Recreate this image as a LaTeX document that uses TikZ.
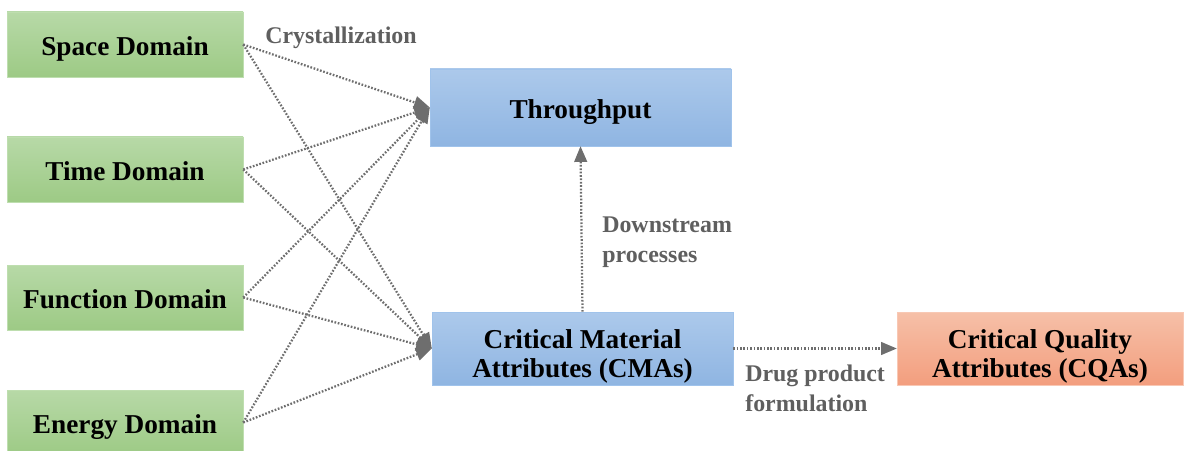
\documentclass[tikz,border=0pt]{standalone}
\usepackage{fontspec}
\setmainfont{Liberation Serif}
\usepackage{tikz}
\usetikzlibrary{arrows}
\usetikzlibrary{positioning}
\definecolor{leaftop}{RGB}{183, 217, 167}
\definecolor{leafbot}{RGB}{157, 202, 133}
\definecolor{leafline}{RGB}{190, 222, 175}
\definecolor{skytop}{RGB}{172, 201, 235}
\definecolor{skybot}{RGB}{143, 181, 226}
\definecolor{skyline}{RGB}{160, 195, 235}
\definecolor{peachtop}{RGB}{246, 192, 168}
\definecolor{peachbot}{RGB}{243, 158, 126}
\definecolor{peachline}{RGB}{248, 200, 180}
\definecolor{linkgray}{RGB}{110, 110, 110}
\definecolor{labelgray}{RGB}{95, 95, 95}
\tikzset{
    domainbox/.style  = {draw=leafline, top color=leaftop, bottom color=leafbot,
                         minimum width=5.9cm, minimum height=1.625cm, inner sep=0pt,
                         text height=20pt, text depth=5pt,
                         font=\fontsize{19.4}{20.2}\selectfont\bfseries},
    targetbox/.style  = {draw=skyline, top color=skytop, bottom color=skybot,
                         minimum width=7.525cm, inner sep=0pt, align=center,
                         font=\fontsize{19.4}{20.2}\selectfont\bfseries},
    qualitybox/.style = {draw=peachline, top color=peachtop, bottom color=peachbot,
                         minimum width=7.15cm, minimum height=1.825cm, inner sep=0pt, align=center,
                         text height=44.6pt, text depth=4pt,
                         font=\fontsize{19.4}{20.2}\selectfont\bfseries},
    linklabel/.style  = {text=labelgray, align=left, inner sep=0pt,
                         font=\fontsize{17}{21.3}\selectfont\bfseries},
    dottedlink/.style = {draw=linkgray, line width=1.6pt, dash pattern=on 1.2pt off 1.2pt,
                         -triangle 45}
}

\begin{document}
\begin{tikzpicture}
            \useasboundingbox (0,0) rectangle (29.65,11.25);
            % domains on the left
            \node[domainbox] (space)    at ( 3.125, 10.1375) {Space Domain};
            \node[domainbox] (time)     at ( 3.125,  7.0125) {Time Domain};
            \node[domainbox] (function) at ( 3.125,  3.8125) {Function Domain};
            \node[domainbox] (energy)   at ( 3.125,  0.6875) {Energy Domain};
            % targets
            \node[targetbox, minimum height=1.925cm, text height=20pt, text depth=5pt]
                 (throughput) at (14.5125, 8.5625) {Throughput};
            \node[targetbox, minimum height=1.825cm, text height=44.6pt, text depth=4pt]
                 (cma) at (14.5625, 2.5375) {Critical Material\\Attributes (CMAs)};
            \node[qualitybox] (cqa) at (26.00, 2.5375) {Critical Quality\\Attributes (CQAs)};
            % links
            \foreach \dom in {space, time, function, energy} {
                \draw[dottedlink] (\dom.east) -- (throughput.west);
                \draw[dottedlink] (\dom.east) -- (cma.west);
            }
            \draw[dottedlink] (cma.north) -- (throughput.south);
            \draw[dottedlink] (cma.east)  -- (cqa.west);
            % labels
            \node[linklabel]              (crystal)    at ( 8.525, 10.30)  {Crystallization};
            \node[linklabel, anchor=west] (downstream) at (15.05,   5.20)  {Downstream\\processes};
            \node[linklabel, anchor=west] (drug)       at (18.625,  1.55)  {Drug product\\formulation};
        \end{tikzpicture}
\end{document}
